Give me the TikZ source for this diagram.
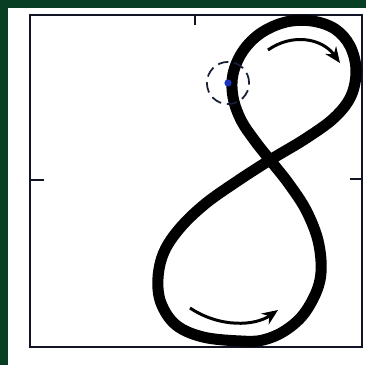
\documentclass[tikz,border=0pt]{standalone}
\usepackage{tikz}
\usetikzlibrary{arrows.meta, calc}
\definecolor{PanelGreen}{RGB}{8,62,36}
\definecolor{FrameNavy}{RGB}{16,20,36}
\definecolor{ProbeBlue}{RGB}{28,52,190}
\definecolor{RingNavy}{RGB}{22,30,56}

\begin{document}
\begin{tikzpicture}[x=0.02cm, y=-0.02cm,
          frame/.style={draw=FrameNavy, line width=1.1pt},
          track/.style={draw=black, line width=6.3pt, line join=round},
          flow/.style={-{Stealth[length=9pt, width=7.5pt]}, line width=1.7pt},
          ring/.style={circle, draw=RingNavy, line width=1pt,
                       dash pattern=on 6pt off 3.3pt, minimum size=24pt, inner sep=0pt}
        ]
        \useasboundingbox (0,0) rectangle (366,365);
        % backdrop
        \fill[PanelGreen] (0,0) rectangle (366,365);
        \fill[white] (8,8) rectangle (366,365);

        % axes box and ticks
        \draw[frame] (30,15) rectangle (362,347);
        \draw[frame] (195,15) -- (195,25);
        \draw[frame] (30,180) -- (44,180);
        \draw[frame] (362,179) -- (350,179);

        % figure-eight track
        \draw[track] plot[smooth cycle, tension=0.6] coordinates {
              (240,341) (203,337) (176,325) (161,303) (158,278) (164,252)
              (180,228) (205,204) (236,182) (270,160) (305,139) (334,118)
              (351,96) (356,70) (350,46) (335,29) (312,21) (286,22)
              (261,33) (243,51) (233,74) (233,97) (241,120) (255,141)
              (270,160) (289,184) (307,212) (319,245) (320,280) (306,311)
              (286,330) (263,340)};

        % direction of travel
        \coordinate (upS) at (268,50);
        \coordinate (upE) at (340,63);
        \draw[flow] (upS) .. controls (292,33) and (322,38) .. (upE);
        \coordinate (loS) at (190,308);
        \coordinate (loE) at (278,310);
        \draw[flow] (loS) .. controls (220,328) and (255,326) .. (loE);

        % current position
        \node[ring] (probe) at (228,83) {};
        \fill[ProbeBlue] (probe.center) circle[radius=3.6];
      \end{tikzpicture}
\end{document}
